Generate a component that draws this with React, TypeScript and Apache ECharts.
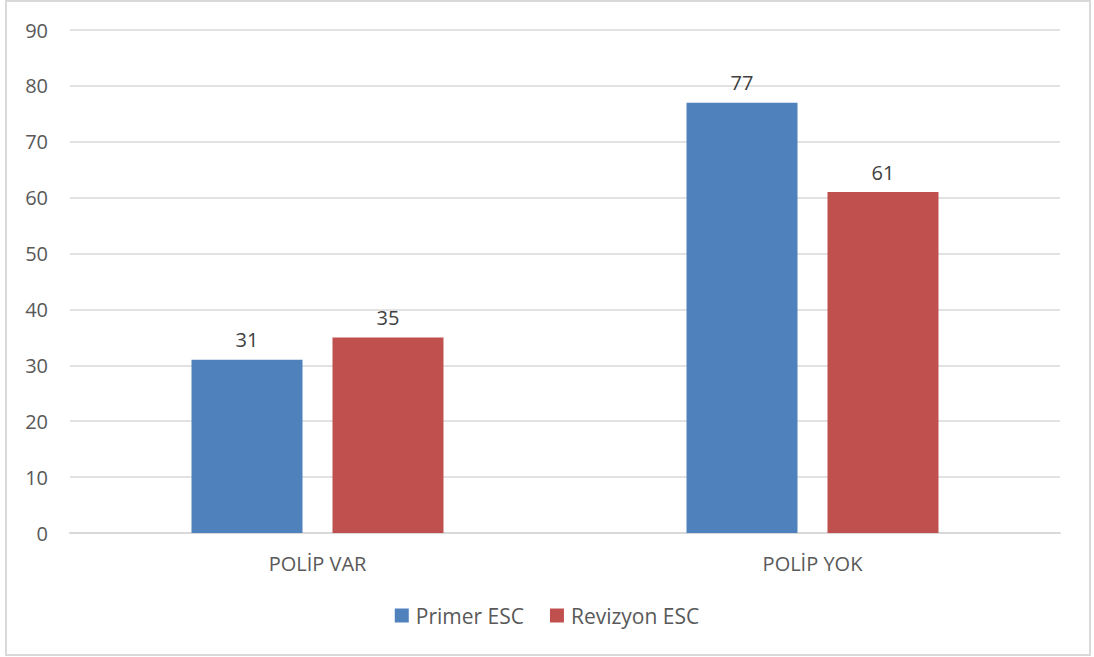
import React, { useEffect, useRef } from "react";
import * as echarts from "echarts";

const categories = ["POLİP VAR", "POLİP YOK"];
const primerESC = [31, 77];
const revizyonESC = [35, 61];
const seriesNames = ["Primer ESC", "Revizyon ESC"];

const FONT = "'Open Sans', 'Liberation Sans', sans-serif";
const TXT = "#595959";
const FS = 20;

export default function App() {
  const ref = useRef<HTMLDivElement>(null);
  useEffect(() => {
    const chart = echarts.init(ref.current!, null, { renderer: "svg" });
    chart.setOption({
      animation: false,
      backgroundColor: "#ffffff",
      textStyle: { fontFamily: FONT },
      graphic: [
        {
          type: "rect",
          shape: { x: 6, y: 1, width: 1084, height: 654 },
          style: { fill: "none", stroke: "#D9D9D9", lineWidth: 2 },
          silent: true,
        },
      ],
      legend: {
        data: seriesNames,
        bottom: 26,
        left: "center",
        itemWidth: 14,
        itemHeight: 14,
        itemGap: 26,
        icon: "rect",
        textStyle: { fontFamily: FONT, fontSize: 21, color: TXT, padding: [0, 0, 0, 2] },
      },
      grid: { left: 70, right: 34, top: 30, bottom: 124, containLabel: false },
      xAxis: {
        type: "category",
        data: categories,
        axisLine: { lineStyle: { color: "#D9D9D9", width: 2 } },
        axisTick: { show: false },
        axisLabel: { fontFamily: FONT, fontSize: FS, color: TXT, margin: 20 },
      },
      yAxis: {
        type: "value",
        min: 0,
        max: 90,
        interval: 10,
        axisLine: { show: false },
        axisTick: { show: false },
        splitLine: { lineStyle: { color: "#D9D9D9", width: 1.5 } },
        axisLabel: { fontFamily: FONT, fontSize: FS, color: TXT, margin: 22 },
      },
      series: [
        {
          name: seriesNames[0],
          type: "bar",
          data: primerESC,
          barWidth: 111,
          barGap: "27%",
          itemStyle: { color: "#4F81BD" },
          label: { show: true, position: "top", distance: 10, fontFamily: FONT, fontSize: FS, color: "#404040" },
        },
        {
          name: seriesNames[1],
          type: "bar",
          data: revizyonESC,
          barWidth: 111,
          barGap: "27%",
          itemStyle: { color: "#C0504D" },
          label: { show: true, position: "top", distance: 10, fontFamily: FONT, fontSize: FS, color: "#404040" },
        },
      ],
    });
    return () => chart.dispose();
  }, []);
  return (
    <div
      ref={ref}
      style={{ position: "fixed", left: 0, top: 0, width: 1094, height: 657 }}
    />
  );
}
